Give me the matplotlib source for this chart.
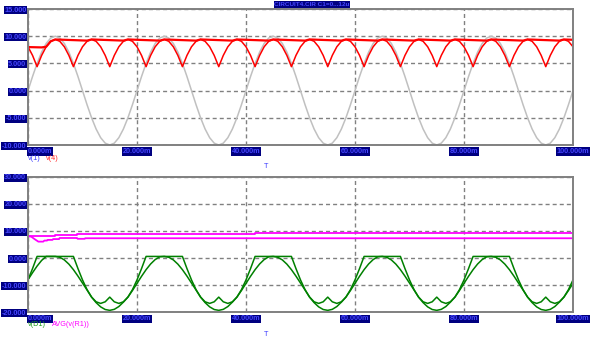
import numpy as np
import matplotlib
matplotlib.use("Agg")
import matplotlib.pyplot as plt

W, H, DPI = 592, 343, 100

# Transient run, samples every 1/1200 s (15 degrees of the 50 Hz source)
SAMPLE_MS = 100.0 / 120

# v(1): source phase voltage
v1 = [
    0, 2.59, 5.0, 7.07, 8.66, 9.66, 10.0, 9.66, 8.66, 7.07, 5.0, 2.59,
    0, -2.59, -5.0, -7.07, -8.66, -9.66, -10.0, -9.66, -8.66, -7.07, -5.0, -2.59,
    0, 2.59, 5.0, 7.07, 8.66, 9.66, 10.0, 9.66, 8.66, 7.07, 5.0, 2.59,
    0, -2.59, -5.0, -7.07, -8.66, -9.66, -10.0, -9.66, -8.66, -7.07, -5.0, -2.59,
    0, 2.59, 5.0, 7.07, 8.66, 9.66, 10.0, 9.66, 8.66, 7.07, 5.0, 2.59,
    0, -2.59, -5.0, -7.07, -8.66, -9.66, -10.0, -9.66, -8.66, -7.07, -5.0, -2.59,
    0, 2.59, 5.0, 7.07, 8.66, 9.66, 10.0, 9.66, 8.66, 7.07, 5.0, 2.59,
    0, -2.59, -5.0, -7.07, -8.66, -9.66, -10.0, -9.66, -8.66, -7.07, -5.0, -2.59,
    0, 2.59, 5.0, 7.07, 8.66, 9.66, 10.0, 9.66, 8.66, 7.07, 5.0, 2.59,
    0, -2.59, -5.0, -7.07, -8.66, -9.66, -10.0, -9.66, -8.66, -7.07, -5.0, -2.59,
    0,
]

# v(4) with C1=0 (three-phase ripple)
v4_c0 = [
    8.06, 6.47, 4.4, 6.47, 8.06, 9.06, 9.4, 9.06, 8.06, 6.47, 4.4, 6.47,
    8.06, 9.06, 9.4, 9.06, 8.06, 6.47, 4.4, 6.47, 8.06, 9.06, 9.4, 9.06,
    8.06, 6.47, 4.4, 6.47, 8.06, 9.06, 9.4, 9.06, 8.06, 6.47, 4.4, 6.47,
    8.06, 9.06, 9.4, 9.06, 8.06, 6.47, 4.4, 6.47, 8.06, 9.06, 9.4, 9.06,
    8.06, 6.47, 4.4, 6.47, 8.06, 9.06, 9.4, 9.06, 8.06, 6.47, 4.4, 6.47,
    8.06, 9.06, 9.4, 9.06, 8.06, 6.47, 4.4, 6.47, 8.06, 9.06, 9.4, 9.06,
    8.06, 6.47, 4.4, 6.47, 8.06, 9.06, 9.4, 9.06, 8.06, 6.47, 4.4, 6.47,
    8.06, 9.06, 9.4, 9.06, 8.06, 6.47, 4.4, 6.47, 8.06, 9.06, 9.4, 9.06,
    8.06, 6.47, 4.4, 6.47, 8.06, 9.06, 9.4, 9.06, 8.06, 6.47, 4.4, 6.47,
    8.06, 9.06, 9.4, 9.06, 8.06, 6.47, 4.4, 6.47, 8.06, 9.06, 9.4, 9.06,
    8.06,
]

# v(4) with C1=12u (filtered)
v4_c12 = [
    8.0, 7.98, 7.96, 7.94, 8.06, 9.06,
    9.4, 9.37, 9.34, 9.31, 9.28, 9.25, 9.22, 9.19, 9.4, 9.37, 9.34, 9.31, 9.28, 9.25, 9.22, 9.19,
    9.4, 9.37, 9.34, 9.31, 9.28, 9.25, 9.22, 9.19, 9.4, 9.37, 9.34, 9.31, 9.28, 9.25, 9.22, 9.19,
    9.4, 9.37, 9.34, 9.31, 9.28, 9.25, 9.22, 9.19, 9.4, 9.37, 9.34, 9.31, 9.28, 9.25, 9.22, 9.19,
    9.4, 9.37, 9.34, 9.31, 9.28, 9.25, 9.22, 9.19, 9.4, 9.37, 9.34, 9.31, 9.28, 9.25, 9.22, 9.19,
    9.4, 9.37, 9.34, 9.31, 9.28, 9.25, 9.22, 9.19, 9.4, 9.37, 9.34, 9.31, 9.28, 9.25, 9.22, 9.19,
    9.4, 9.37, 9.34, 9.31, 9.28, 9.25, 9.22, 9.19, 9.4, 9.37, 9.34, 9.31, 9.28, 9.25, 9.22, 9.19,
    9.4, 9.37, 9.34, 9.31, 9.28, 9.25, 9.22, 9.19, 9.4, 9.37, 9.34, 9.31, 9.28, 9.25, 9.22, 9.19,
    9.4, 9.37, 9.34,
]

# v(D1) with C1=0
vd1_c0 = [
    -8.06, -3.88, 0.6, 0.6, 0.6, 0.6, 0.6, 0.6, 0.6, 0.6, 0.6, -3.88,
    -8.06, -11.65, -14.4, -16.13, -16.72, -16.13, -14.4, -16.13, -16.72, -16.13, -14.4, -11.65,
    -8.06, -3.88, 0.6, 0.6, 0.6, 0.6, 0.6, 0.6, 0.6, 0.6, 0.6, -3.88,
    -8.06, -11.65, -14.4, -16.13, -16.72, -16.13, -14.4, -16.13, -16.72, -16.13, -14.4, -11.65,
    -8.06, -3.88, 0.6, 0.6, 0.6, 0.6, 0.6, 0.6, 0.6, 0.6, 0.6, -3.88,
    -8.06, -11.65, -14.4, -16.13, -16.72, -16.13, -14.4, -16.13, -16.72, -16.13, -14.4, -11.65,
    -8.06, -3.88, 0.6, 0.6, 0.6, 0.6, 0.6, 0.6, 0.6, 0.6, 0.6, -3.88,
    -8.06, -11.65, -14.4, -16.13, -16.72, -16.13, -14.4, -16.13, -16.72, -16.13, -14.4, -11.65,
    -8.06, -3.88, 0.6, 0.6, 0.6, 0.6, 0.6, 0.6, 0.6, 0.6, 0.6, -3.88,
    -8.06, -11.65, -14.4, -16.13, -16.72, -16.13, -14.4, -16.13, -16.72, -16.13, -14.4, -11.65,
    -8.06,
]

# v(D1) with C1=12u
vd1_c12 = [
    -8.0, -5.39, -2.96, -0.87, 0.6, 0.6, 0.6, 0.29, -0.68, -2.24, -4.28, -6.66,
    -9.22, -11.78, -14.4, -16.44, -18.0, -18.97, -19.28, -18.91, -17.88, -16.26, -14.4, -11.96,
    -9.34, -6.72, -4.28, -2.18, -0.56, 0.47, 0.6, 0.29, -0.68, -2.24, -4.28, -6.66,
    -9.22, -11.78, -14.4, -16.44, -18.0, -18.97, -19.28, -18.91, -17.88, -16.26, -14.4, -11.96,
    -9.34, -6.72, -4.28, -2.18, -0.56, 0.47, 0.6, 0.29, -0.68, -2.24, -4.28, -6.66,
    -9.22, -11.78, -14.4, -16.44, -18.0, -18.97, -19.28, -18.91, -17.88, -16.26, -14.4, -11.96,
    -9.34, -6.72, -4.28, -2.18, -0.56, 0.47, 0.6, 0.29, -0.68, -2.24, -4.28, -6.66,
    -9.22, -11.78, -14.4, -16.44, -18.0, -18.97, -19.28, -18.91, -17.88, -16.26, -14.4, -11.96,
    -9.34, -6.72, -4.28, -2.18, -0.56, 0.47, 0.6, 0.29, -0.68, -2.24, -4.28, -6.66,
    -9.22, -11.78, -14.4, -16.44, -18.0, -18.97, -19.28, -18.91, -17.88, -16.26, -14.4, -11.96,
    -9.34,
]

# AVG(v(R1)) running averages (time in ms)
avg_c0_t = [0, 0.6, 1.2, 1.9, 2.8, 3.0, 3.5, 3.6, 4.5, 4.6, 5.7, 5.8, 9.0, 9.1, 10.4, 10.5, 100]
avg_c0 = [8.0, 7.9, 7.0, 6.06, 6.06, 6.45, 6.45, 6.7, 6.7, 7.0, 7.0, 7.4, 7.4, 7.1, 7.1, 7.3, 7.3]
avg_c12_t = [0, 5.0, 9.0, 41.7, 100]
avg_c12 = [8.15, 8.4, 8.75, 9.2, 9.2]

x_ticks = [0, 20, 40, 60, 80, 100]
x_labels = ["0.000m", "20.000m", "40.000m", "60.000m", "80.000m", "100.000m"]
top_ticks = [-10, -5, 0, 5, 10, 15]
top_labels = ["-10.000", "-5.000", "0.000", "5.000", "10.000", "15.000"]
bot_ticks = [-20, -10, 0, 10, 20, 30]
bot_labels = ["-20.000", "-10.000", "0.000", "10.000", "20.000", "30.000"]

TITLE = "CIRCUIT4.CIR C1=0...12u"

plt.rcParams["lines.scale_dashes"] = False
plt.rcParams["font.family"] = ["Liberation Sans", "DejaVu Sans"]

NAVY = "#000080"
LBL = "#4646ff"
GRID = "#808080"

t = np.arange(len(v1)) * SAMPLE_MS

fig = plt.figure(figsize=(W / DPI, H / DPI), dpi=DPI)


def px_axes(left, top, right, bottom):
    return fig.add_axes([left / W, 1 - bottom / H, (right - left) / W, (bottom - top) / H])


def style(ax, yticks, ylabels):
    ax.set_xlim(x_ticks[0], x_ticks[-1])
    ax.set_ylim(yticks[0], yticks[-1])
    ax.set_xticks(x_ticks)
    ax.set_xticklabels(x_labels)
    ax.set_yticks(yticks)
    ax.set_yticklabels(ylabels)
    ax.tick_params(length=0, pad=2.2, labelsize=5.2, labelcolor=LBL)
    ax.tick_params(axis="y", pad=1.2)
    for lab in ax.get_xticklabels() + ax.get_yticklabels():
        lab.set_fontweight("bold")
        lab.set_bbox(dict(boxstyle="square,pad=0.08", fc=NAVY, ec="none"))
    ax.get_xticklabels()[0].set_horizontalalignment("left")
    ax.grid(True, color=GRID, linewidth=1.0, linestyle=(0, (2.9, 2.2)))
    ax.set_axisbelow(True)
    for sp in ax.spines.values():
        sp.set_color(GRID)
        sp.set_linewidth(1.4)


ax1 = px_axes(28, 9, 573, 145)
style(ax1, top_ticks, top_labels)
ax1.plot(t, v1, color="#c0c0c0", lw=1.1)
ax1.plot(t, v4_c0, color="#ff0000", lw=1.1)
ax1.plot(t, v4_c12, color="#ff0000", lw=1.6)

ax2 = px_axes(28, 176.7, 573, 312.3)
style(ax2, bot_ticks, bot_labels)
ax2.plot(t, vd1_c0, color="#008000", lw=1.1)
ax2.plot(t, vd1_c12, color="#008000", lw=1.1)
ax2.plot(avg_c12_t, avg_c12, color="#ff00ff", lw=1.3, drawstyle="steps-post")
ax2.plot(avg_c0_t, avg_c0, color="#ff00ff", lw=1.3)


def ftext(x, y, s, **kw):
    fig.text(x / W, 1 - y / H, s, va="center", **kw)


ftext(312, 4.5, TITLE, ha="center", fontsize=4.6, fontweight="bold", color=LBL,
      bbox=dict(boxstyle="square,pad=0.08", fc=NAVY, ec="none"))
ftext(28, 159, "v(1)", ha="left", fontsize=5.2, color="#3a3aff")
ftext(46, 159, "v(4)", ha="left", fontsize=5.2, color="#ff2a2a")
ftext(266, 166, "T", ha="center", fontsize=5.2, color="#3a3aff")
ftext(28, 325, "v(D1)", ha="left", fontsize=5.2, color="#1a9a1a")
ftext(52, 325, "AVG(v(R1))", ha="left", fontsize=5.2, color="#ff00ff")
ftext(266, 334, "T", ha="center", fontsize=5.2, color="#3a3aff")

fig.savefig("out.png", dpi=DPI, facecolor="white")
